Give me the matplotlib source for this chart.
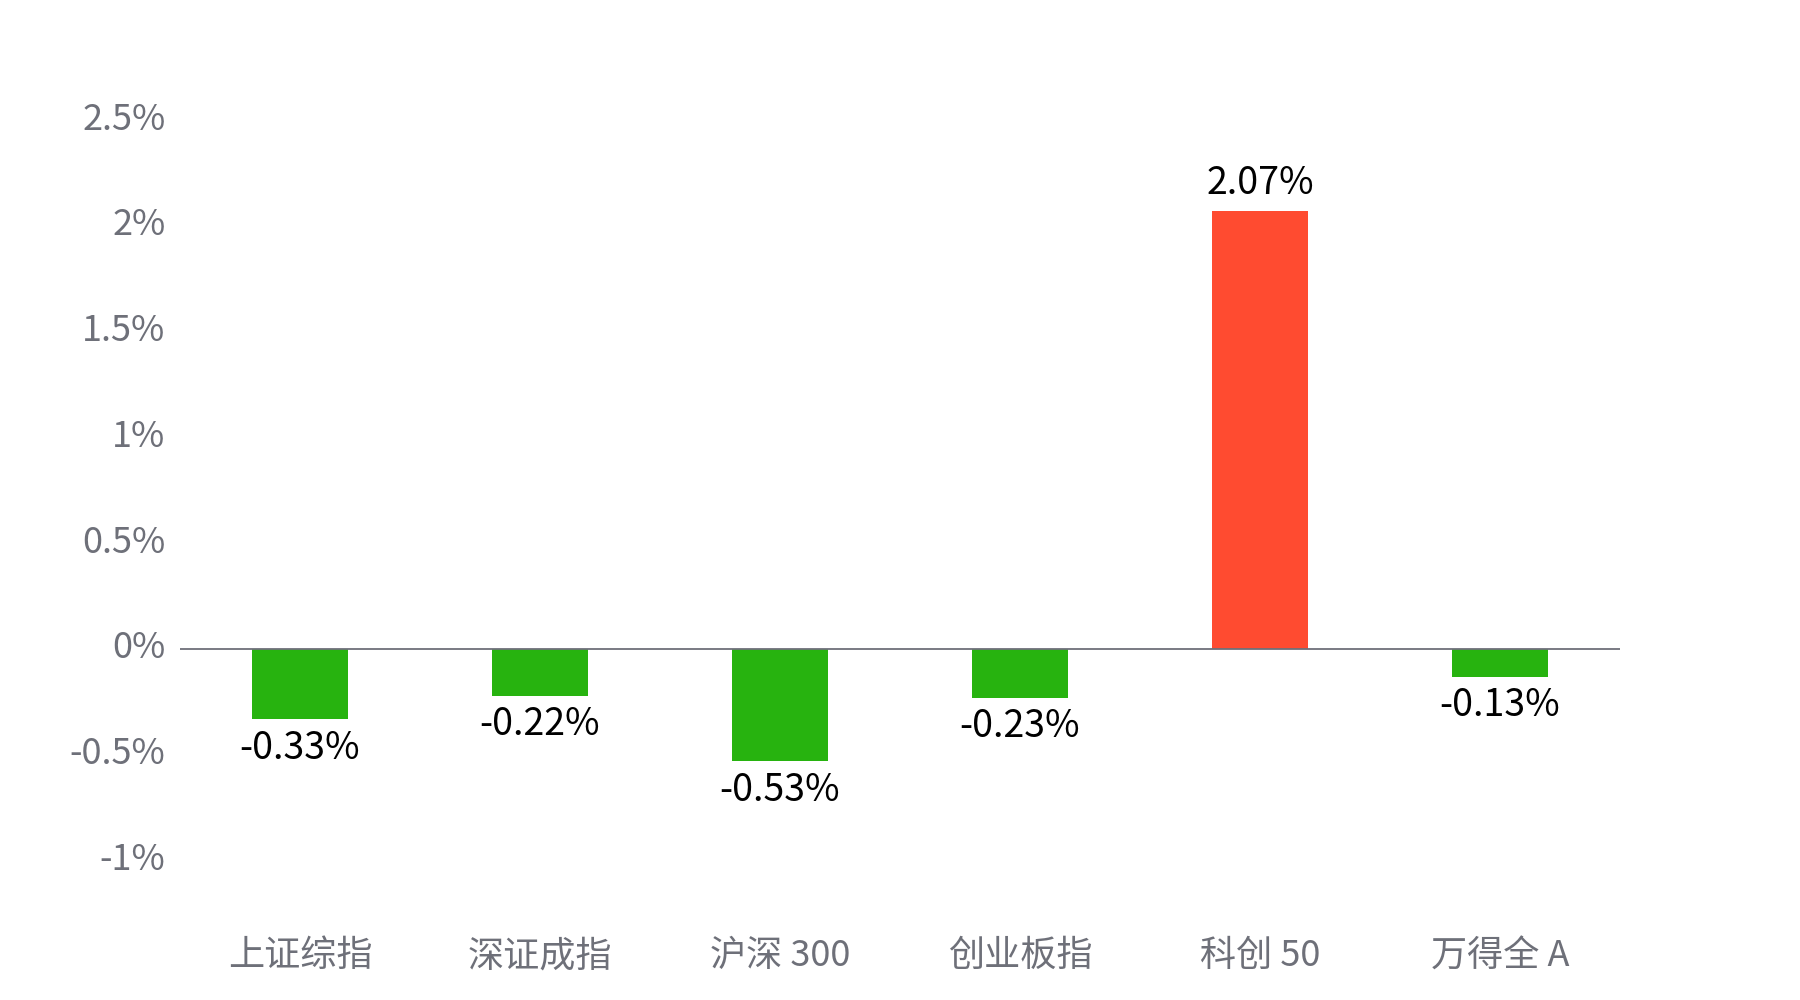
import matplotlib
matplotlib.use('Agg')
import matplotlib.pyplot as plt
import matplotlib.transforms as mtransforms
from matplotlib.ticker import FixedLocator, FuncFormatter

plt.rcParams['font.family'] = ['Noto Sans CJK SC', 'DejaVu Sans']

categories = ['上证综指', '深证成指', '沪深 300', '创业板指', '科创 50', '万得全 A']
changes = [-0.33, -0.22, -0.53, -0.23, 2.07, -0.13]
y_ticks = [-1, -0.5, 0, 0.5, 1, 1.5, 2, 2.5]

UP = '#FF4B30'
DOWN = '#27B30F'
AXIS = '#6E7079'


def pct(v, pos=None):
    return ('%g' % v) + '%'


fig = plt.figure(figsize=(18, 10), dpi=100)
ax = fig.add_axes([0.1, 0.1394, 0.8, 0.7406])

x = list(range(len(categories)))
colors = [UP if v >= 0 else DOWN for v in changes]
ax.bar(x, changes, width=0.4, color=colors, zorder=2)
ax.axhline(0, color=AXIS, lw=1.3, zorder=3)

for xi, v in zip(x, changes):
    if v >= 0:
        ax.annotate('%.2f%%' % v, (xi, v), xytext=(0, 6), textcoords='offset points',
                    ha='center', va='bottom', fontsize=27, color='black')
    else:
        ax.annotate('%.2f%%' % v, (xi, v), xytext=(0, -7), textcoords='offset points',
                    ha='center', va='top', fontsize=27, color='black')

ax.set_xlim(-0.5, len(categories) - 0.5)
ax.set_ylim(-1, 2.5)
ax.yaxis.set_major_locator(FixedLocator(y_ticks))
ax.yaxis.set_major_formatter(FuncFormatter(pct))
ax.set_xticks(x)
ax.set_xticklabels(categories)
ax.tick_params(axis='y', length=0, pad=10.5, labelsize=26, labelcolor=AXIS)
ax.tick_params(axis='x', length=0, pad=56, labelsize=26, labelcolor=AXIS)
for s in ax.spines.values():
    s.set_visible(False)

# y labels sit a few pixels above their gridline in the original
shift = mtransforms.ScaledTranslation(0, 0.045, fig.dpi_scale_trans)
for lab in ax.get_yticklabels():
    lab.set_transform(lab.get_transform() + shift)

fig.savefig('out.png', dpi=100, facecolor='white')
